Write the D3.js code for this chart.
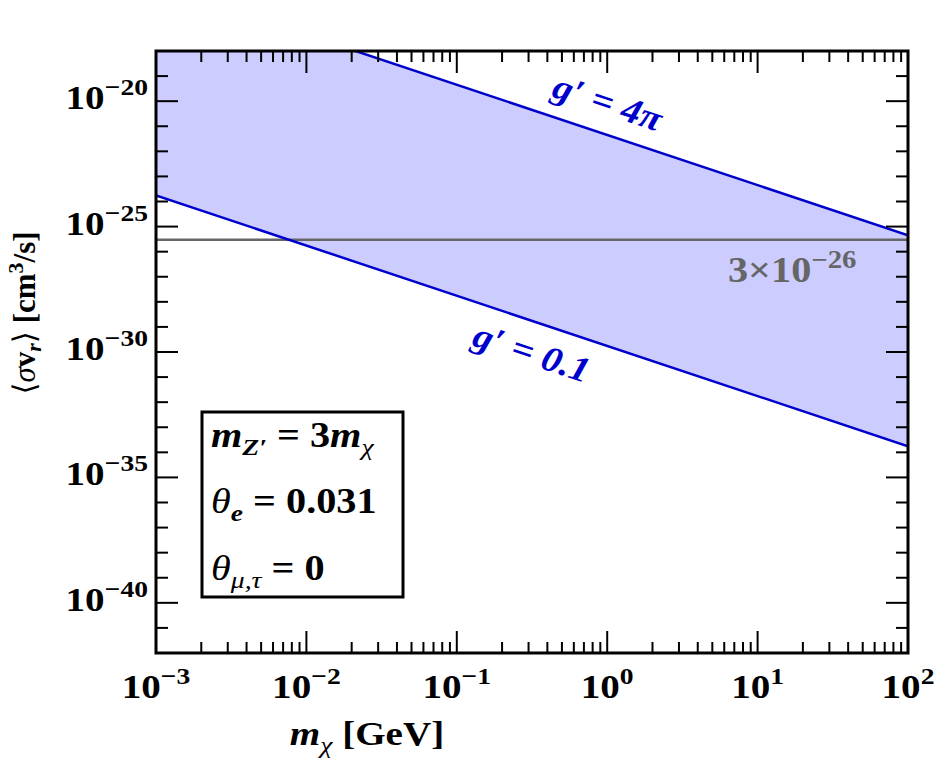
<!DOCTYPE html>
<html>
<head>
<meta charset="utf-8">
<script src="https://cdn.jsdelivr.net/npm/d3@7"></script>
<style>
  body { margin: 0; background: #fff; }
</style>
</head>
<body>
<div id="chart"></div>
<script>
// values
var massPoints = [1e-3, 1e2];             // m_chi [GeV]
var sigmaG4pi = [4.5e-16, 4.5e-26];       // g' = 4pi
var sigmaG01 = [1.75e-24, 1.75e-34];      // g' = 0.1
var thermalSigma = 3e-26;
var xTicks = [1e-3, 1e-2, 1e-1, 1e0, 1e1, 1e2];
var xTickExp = ['\u22123', '\u22122', '\u22121', '0', '1', '2'];
var yTicks = [1e-20, 1e-25, 1e-30, 1e-35, 1e-40];
var yTickExp = ['\u221220', '\u221225', '\u221230', '\u221235', '\u221240'];

var width = 937, height = 772;
var margin = { top: 51, bottom: 119, left: 156, right: 29 };
var w = width - margin.left - margin.right;
var h = height - margin.top - margin.bottom;

var blue = '#0000cc', fillBlue = '#ccccff', grey = '#666666';
var stretch = 1.15;

var svg = d3.select('#chart')
    .append('svg')
    .attr('width', width)
    .attr('height', height)
    .style('font-family', 'Liberation Serif, Tinos, DejaVu Serif')
    .attr('font-weight', 'bold');

// text drawn a bit wider than the font, like the reference
function wideText(parent, px, py, size) {
    return parent.append('text')
        .attr('transform', 'translate(' + px + ',' + py + ') scale(' + stretch + ',1)')
        .attr('font-size', size);
}

var g = svg.append('g')
    .attr('transform', 'translate(' + margin.left + ',' + margin.top + ')');

var x = d3.scaleLog().domain([1e-3, 1e2]).range([0, w]);
var y = d3.scaleLog().domain([1e-42, 1e-18]).range([h, 0]);

g.append('clipPath').attr('id', 'clip')
    .append('rect').attr('width', w).attr('height', h);

var band = massPoints.map(function(m, i) {
    return { m: m, lo: sigmaG01[i], hi: sigmaG4pi[i] };
});

var plot = g.append('g').attr('clip-path', 'url(#clip)');

plot.append('path')
    .datum(band)
    .attr('fill', fillBlue)
    .attr('d', d3.area()
        .x(function(d) { return x(d.m); })
        .y0(function(d) { return y(d.lo); })
        .y1(function(d) { return y(d.hi); }));

// thermal relic line
plot.append('line')
    .attr('x1', 0).attr('x2', w)
    .attr('y1', y(thermalSigma)).attr('y2', y(thermalSigma))
    .attr('stroke', grey).attr('stroke-width', 2.5);

var line = d3.line()
    .x(function(d) { return x(d.m); })
    .y(function(d) { return y(d.s); });

[sigmaG4pi, sigmaG01].forEach(function(s) {
    plot.append('path')
        .datum(massPoints.map(function(m, i) { return { m: m, s: s[i] }; }))
        .attr('fill', 'none')
        .attr('stroke', blue)
        .attr('stroke-width', 2.5)
        .attr('d', line);
});

// ticks (inward, on all four sides)
var xMinor = [];
for (var e = -3; e < 2; e++) {
    for (var k = 2; k <= 9; k++) xMinor.push(k * Math.pow(10, e));
}
var yMinor = [];
for (var e2 = -41; e2 <= -19; e2++) {
    if (e2 % 5 !== 0) yMinor.push(Math.pow(10, e2));
}

var ticks = g.append('g').attr('stroke', '#000').attr('stroke-width', 2);
function xTick(v, len) {
    ticks.append('line').attr('x1', x(v)).attr('x2', x(v)).attr('y1', h).attr('y2', h - len);
    ticks.append('line').attr('x1', x(v)).attr('x2', x(v)).attr('y1', 0).attr('y2', len);
}
function yTick(v, len) {
    ticks.append('line').attr('y1', y(v)).attr('y2', y(v)).attr('x1', 0).attr('x2', len);
    ticks.append('line').attr('y1', y(v)).attr('y2', y(v)).attr('x1', w).attr('x2', w - len);
}
xMinor.forEach(function(v) { xTick(v, 11); });
xTicks.forEach(function(v) { xTick(v, 22); });
yMinor.forEach(function(v) { yTick(v, 12); });
yTicks.forEach(function(v) { yTick(v, 22); });

g.append('rect')
    .attr('width', w).attr('height', h)
    .attr('fill', 'none')
    .attr('stroke', '#000').attr('stroke-width', 3);

// tick labels
xTicks.forEach(function(v, i) {
    var t = wideText(g, x(v), h + 45, 34).attr('text-anchor', 'middle');
    t.append('tspan').text('10');
    t.append('tspan').attr('dy', -14).attr('font-size', 24).text(xTickExp[i]);
});
yTicks.forEach(function(v, i) {
    var t = wideText(g, -8, y(v) + 8, 34).attr('text-anchor', 'end');
    t.append('tspan').text('10');
    t.append('tspan').attr('dy', -14).attr('font-size', 24).text(yTickExp[i]);
});

// axis titles
var xt = wideText(svg, 367, 745, 34).attr('text-anchor', 'middle');
xt.append('tspan').attr('font-style', 'italic').text('m');
xt.append('tspan').attr('font-style', 'italic').attr('font-weight', 'normal').attr('dy', 8).attr('font-size', 24).text('\u03c7');
xt.append('tspan').attr('dy', -8).text(' [GeV]');

var yt = svg.append('text')
    .attr('transform', 'translate(35,313) rotate(-90)')
    .attr('text-anchor', 'middle')
    .attr('font-size', 31);
yt.append('tspan').attr('font-weight', 'normal').text('\u27e8');
yt.append('tspan').attr('font-style', 'italic').attr('font-weight', 'normal').text('\u03c3');
yt.append('tspan').text('v');
yt.append('tspan').attr('font-style', 'italic').attr('dy', 6).attr('font-size', 22).text('r');
yt.append('tspan').attr('font-weight', 'normal').attr('dy', -6).text('\u27e9 ');
yt.append('tspan').text('[cm');
yt.append('tspan').attr('dy', -12).attr('font-size', 22).text('3');
yt.append('tspan').attr('dy', 12).text('/s]');

// line labels, turned to follow the lines
var ang = Math.atan2(y(sigmaG4pi[1]) - y(sigmaG4pi[0]), x(massPoints[1]) - x(massPoints[0])) * 180 / Math.PI;

function lineLabel(px, py, str) {
    g.append('text')
        .attr('transform', 'translate(' + (px - margin.left) + ',' + (py - margin.top) + ') rotate(' + ang + ') scale(1.08,1)')
        .attr('text-anchor', 'middle')
        .attr('fill', blue)
        .attr('font-style', 'italic')
        .attr('font-size', 36)
        .text(str);
}
lineLabel(604, 114, 'g\u2032 = 4\u03c0');
lineLabel(528, 364, 'g\u2032 = 0.1');

var th = wideText(g, 728 - margin.left, 282 - margin.top, 35).attr('fill', grey);
th.append('tspan').text('3\u00d710');
th.append('tspan').attr('dy', -14).attr('font-size', 25).text('\u221226');

// parameter box
svg.append('rect')
    .attr('x', 202).attr('y', 412)
    .attr('width', 201).attr('height', 185)
    .attr('fill', '#fff')
    .attr('stroke', '#000').attr('stroke-width', 3);

var r1 = wideText(svg, 211, 447, 35);
r1.append('tspan').attr('font-style', 'italic').text('m');
r1.append('tspan').attr('font-style', 'italic').attr('dy', 8).attr('font-size', 24).text('Z\u2032');
r1.append('tspan').attr('dy', -8).text(' = 3');
r1.append('tspan').attr('font-style', 'italic').text('m');
r1.append('tspan').attr('font-style', 'italic').attr('font-weight', 'normal').attr('dy', 8).attr('font-size', 24).text('\u03c7');

var r2 = wideText(svg, 211, 513, 35);
r2.append('tspan').attr('font-style', 'italic').attr('font-weight', 'normal').text('\u03b8');
r2.append('tspan').attr('font-style', 'italic').attr('dy', 8).attr('font-size', 24).text('e');
r2.append('tspan').attr('dy', -8).text(' = 0.031');

var r3 = wideText(svg, 211, 580, 35);
r3.append('tspan').attr('font-style', 'italic').attr('font-weight', 'normal').text('\u03b8');
r3.append('tspan').attr('font-style', 'italic').attr('font-weight', 'normal').attr('dy', 8).attr('font-size', 24).text('\u03bc,\u03c4');
r3.append('tspan').attr('dy', -8).text(' = 0');
</script>
</body>
</html>
